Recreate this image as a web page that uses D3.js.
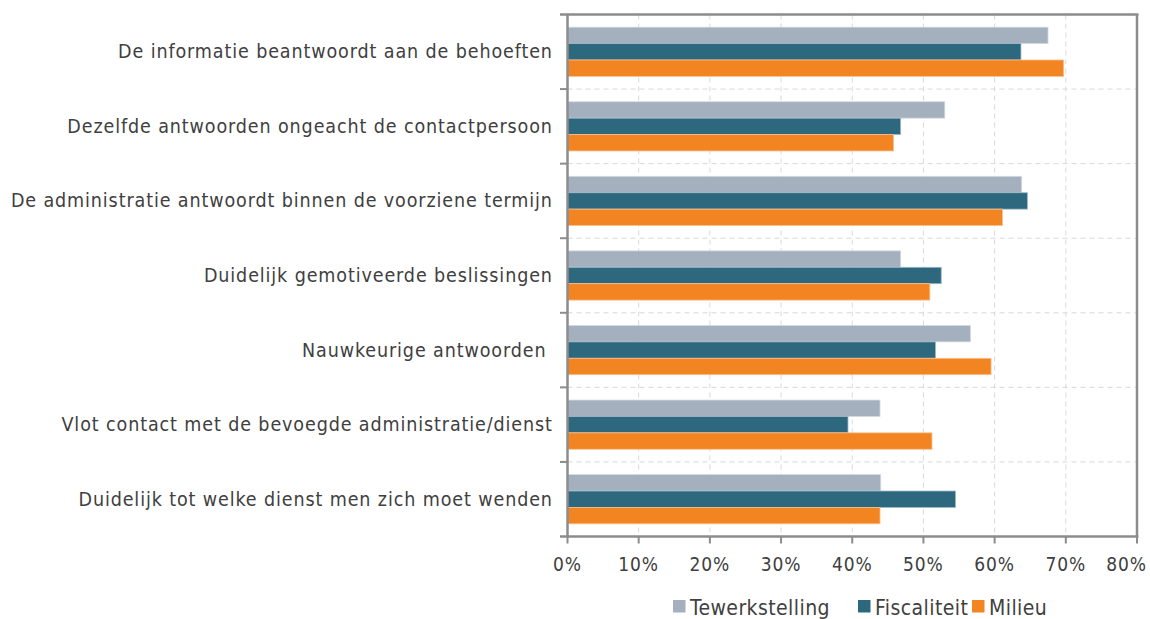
<!DOCTYPE html>
<html><head><meta charset="utf-8">
<script src="https://cdn.jsdelivr.net/npm/d3@7"></script>
<style>body{margin:0;background:#fff}svg{display:block}</style>
</head><body>
<svg id="c" width="1150" height="619"></svg>
<script>
const categories = [
  "De informatie beantwoordt aan de behoeften",
  "Dezelfde antwoorden ongeacht de contactpersoon",
  "De administratie antwoordt binnen de voorziene termijn",
  "Duidelijk gemotiveerde beslissingen",
  "Nauwkeurige antwoorden ",
  "Vlot contact met de bevoegde administratie/dienst",
  "Duidelijk tot welke dienst men zich moet wenden"
];
const seriesNames = ["Tewerkstelling", "Fiscaliteit", "Milieu"];
const tewerkstelling = [0.675, 0.530, 0.638, 0.468, 0.566, 0.439, 0.440];
const fiscaliteit    = [0.637, 0.468, 0.646, 0.525, 0.517, 0.394, 0.545];
const milieu         = [0.697, 0.458, 0.611, 0.509, 0.595, 0.512, 0.439];
const seriesColors = ["#a5b0be", "#2e687e", "#f38422"];
const xTicks = [0, 0.1, 0.2, 0.3, 0.4, 0.5, 0.6, 0.7, 0.8];

const seriesValues = [tewerkstelling, fiscaliteit, milieu];
const svg = d3.select("#c");
const font = "'DejaVu Sans Condensed', 'DejaVu Sans', sans-serif";
const L = 567.5, R = 1137, T = 14.5, B = 536.5;
const x = d3.scaleLinear().domain([0, 0.8]).range([L, R]);
const y = d3.scaleBand().domain(categories).range([T, B]).paddingInner(0.34).paddingOuter(0.17);
const ys = d3.scaleBand().domain(seriesNames).range([0, y.bandwidth()]);
const yb = d3.scaleBand().domain(categories).range([T, B]);

// grid
const grid = svg.append("g");
grid.selectAll("line.v").data(xTicks.slice(1, -1)).join("line")
  .attr("x1", d => x(d)).attr("x2", d => x(d)).attr("y1", T).attr("y2", B)
  .attr("stroke", "#d9d9d9").attr("stroke-width", 1).attr("stroke-dasharray", "5,4");
grid.selectAll("line.h").data(categories.slice(1)).join("line")
  .attr("x1", L).attr("x2", R).attr("y1", d => yb(d)).attr("y2", d => yb(d))
  .attr("stroke", "#d9d9d9").attr("stroke-width", 1).attr("stroke-dasharray", "5,4");

// bars
seriesNames.forEach((s, si) => {
  svg.append("g").selectAll("rect").data(categories).join("rect")
    .attr("x", L)
    .attr("y", c => y(c) + ys(s))
    .attr("width", (c, i) => x(seriesValues[si][i]) - L)
    .attr("height", ys.bandwidth())
    .attr("fill", seriesColors[si])
    .attr("stroke", si === 1 ? "#9fb7c6" : (si === 0 ? "#d3d9e0" : "#f9c08f"))
    .attr("stroke-width", 0.8);
});

// axes frame
const ax = "#8c8c8c";
svg.append("line").attr("x1", 560).attr("x2", R + 1.5).attr("y1", T).attr("y2", T).attr("stroke", ax).attr("stroke-width", 2.5);
svg.append("line").attr("x1", R).attr("x2", R).attr("y1", T).attr("y2", B).attr("stroke", ax).attr("stroke-width", 2.5);
svg.append("line").attr("x1", L).attr("x2", L).attr("y1", T).attr("y2", B + 1).attr("stroke", ax).attr("stroke-width", 2.5);
svg.append("line").attr("x1", 560).attr("x2", R + 1.5).attr("y1", B).attr("y2", B).attr("stroke", ax).attr("stroke-width", 2.5);
// left ticks
svg.append("g").selectAll("line").data(categories.slice(1)).join("line")
  .attr("x1", 560).attr("x2", L).attr("y1", d => yb(d)).attr("y2", d => yb(d))
  .attr("stroke", ax).attr("stroke-width", 2);
// bottom ticks
svg.append("g").selectAll("line").data(xTicks).join("line")
  .attr("x1", d => x(d)).attr("x2", d => x(d)).attr("y1", B).attr("y2", B + 7)
  .attr("stroke", ax).attr("stroke-width", 2);

// category labels
const fs = 19.5;
const longest = categories[2];
const labels = svg.append("g").selectAll("text").data(categories).join("text")
  .attr("x", 552)
  .attr("text-anchor", "end").attr("font-family", font).attr("font-size", fs)
  .attr("fill", "#404040").attr("xml:space", "preserve").style("white-space", "pre")
  .text(d => d);
const wLong = labels.filter(d => d === longest).node().getComputedTextLength();
const ls = Math.max(0, (542 - wLong) / longest.length);
labels.attr("letter-spacing", ls)
  .attr("y", d => yb(d) + yb.bandwidth() / 2 + 6.5);
labels.attr("x", 552 + ls);

// x tick labels
svg.append("g").selectAll("text").data(xTicks).join("text")
  .attr("x", (d, i) => i === xTicks.length - 1 ? 1146 + ls : x(d))
  .attr("y", 571)
  .attr("text-anchor", (d, i) => i === xTicks.length - 1 ? "end" : "middle")
  .attr("font-family", font).attr("font-size", 19)
  .attr("letter-spacing", ls)
  .attr("fill", "#404040").text(d => d3.format(".0%")(d));

// legend
const legX = [673, 858, 972];
const leg = svg.append("g").selectAll("g").data(seriesNames).join("g")
  .attr("transform", (d, i) => `translate(${legX[i]},0)`);
leg.append("rect").attr("x", 0).attr("y", 600).attr("width", 12.5).attr("height", 12.5)
  .attr("fill", (d, i) => seriesColors[i]);
const legT = leg.append("text").attr("x", 17).attr("y", 615).attr("font-family", font).attr("font-size", 21)
  .attr("fill", "#404040").text(d => d);
const lw = legT.filter((d, i) => i === 0).node().getComputedTextLength();
legT.attr("letter-spacing", Math.max(0, (140 - lw) / seriesNames[0].length));
</script>
</body></html>
